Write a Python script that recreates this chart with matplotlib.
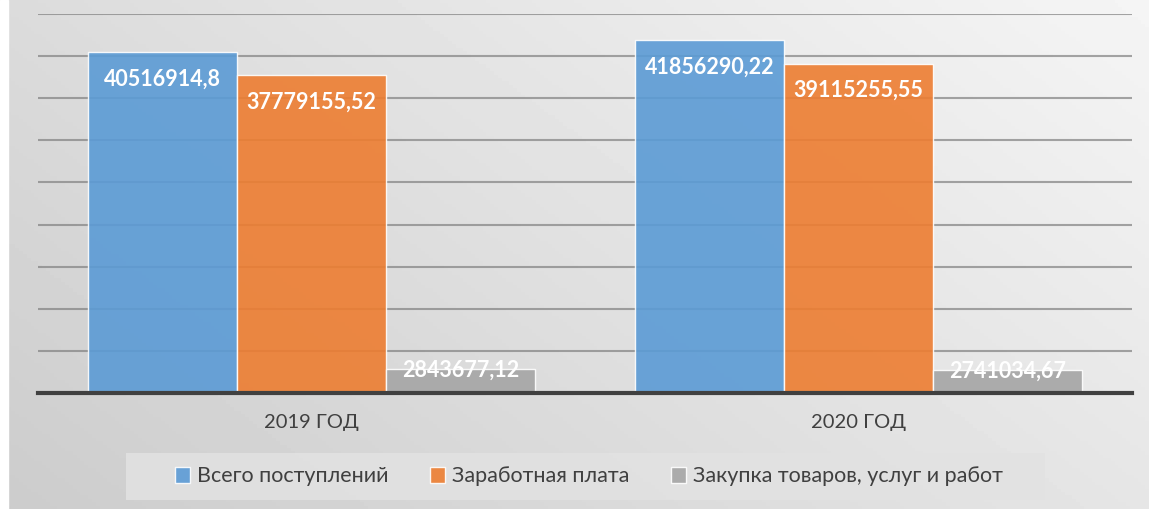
import numpy as np
import matplotlib.pyplot as plt
from matplotlib.patches import Rectangle

plt.rcParams['font.family'] = ['Lato', 'DejaVu Sans']

# data
years = ["2019 ГОД", "2020 ГОД"]
series = ["Всего поступлений", "Заработная плата", "Закупка товаров, услуг и работ"]
total = [40516914.8, 41856290.22]
salary = [37779155.52, 39115255.55]
purchases = [2843677.12, 2741034.67]
colors = ["#5b9bd5", "#ed7d31", "#a5a5a5"]

W, H = 1149, 509
fig = plt.figure(figsize=(W / 100, H / 100), dpi=100)

# gradient background (light top-right -> darker bottom-left)
bg = fig.add_axes([0, 0, 1, 1], zorder=-10)
gx, gy = np.meshgrid(np.linspace(0, 1, 300), np.linspace(0, 1, 150))
shade = 0.80 + 0.10 * gx + 0.06 * (1 - gy)
bg.imshow(shade, cmap="gray", vmin=0, vmax=1, aspect="auto",
          extent=[0, 1, 0, 1], origin="upper")
bg.set_xlim(0, 1)
bg.set_ylim(0, 1)
bg.axis("off")
bg.add_patch(Rectangle((0, 0), 8 / W, 1, color="white", zorder=2))

ax = fig.add_axes([38 / W, 116 / H, 1094 / W, 379 / H])
ax.patch.set_alpha(0)
ax.set_xlim(-0.5, 1.5)
ax.set_ylim(0, 45e6)
ax.set_yticks(np.arange(5e6, 45e6 + 1, 5e6))
ax.yaxis.grid(True, color="#808080", lw=1.5, alpha=0.7)
ax.set_axisbelow(True)
for s in ax.spines.values():
    s.set_visible(False)
ax.tick_params(axis="y", length=0, labelleft=False)
ax.tick_params(axis="x", length=0, pad=15, labelsize=14.5, labelcolor="#404040")

x = np.arange(len(years))
w = 0.2725
for k, (name, vals) in enumerate(zip(series, [total, salary, purchases])):
    ax.bar(x + (k - 1) * w, vals, w, color=colors[k], alpha=0.9,
           edgecolor=(1, 1, 1, 0.6), linewidth=1, label=name, zorder=2)
    for xi, v in zip(x + (k - 1) * w, vals):
        txt = f"{v:.2f}".rstrip("0").rstrip(".").replace(".", ",")
        dy = -27 if v > 10e6 else -1
        ax.annotate(txt, (xi, v), xytext=(0, dy * 0.72), textcoords="offset points",
                    ha="center", va="center", color="white", fontsize=15.5,
                    fontweight="bold", zorder=4)

ax.axhline(0, color="#404040", lw=3, zorder=3, clip_on=False)
ax.set_xticks(x)
ax.set_xticklabels(years)

# legend box
fig.patches.append(Rectangle((126 / W, 1 - 500 / H), 919 / W, 47 / H,
                             transform=fig.transFigure, facecolor="#e2e2e2",
                             edgecolor="none", alpha=0.85, zorder=-5))
fig.legend(loc="center", bbox_to_anchor=(589 / W, 1 - 476.5 / H), ncol=3,
           frameon=False, fontsize=15.5, labelcolor="#404040",
           handlelength=0.7, handleheight=0.7, handletextpad=0.3,
           columnspacing=1.95)

fig.savefig("out.png", dpi=100)
